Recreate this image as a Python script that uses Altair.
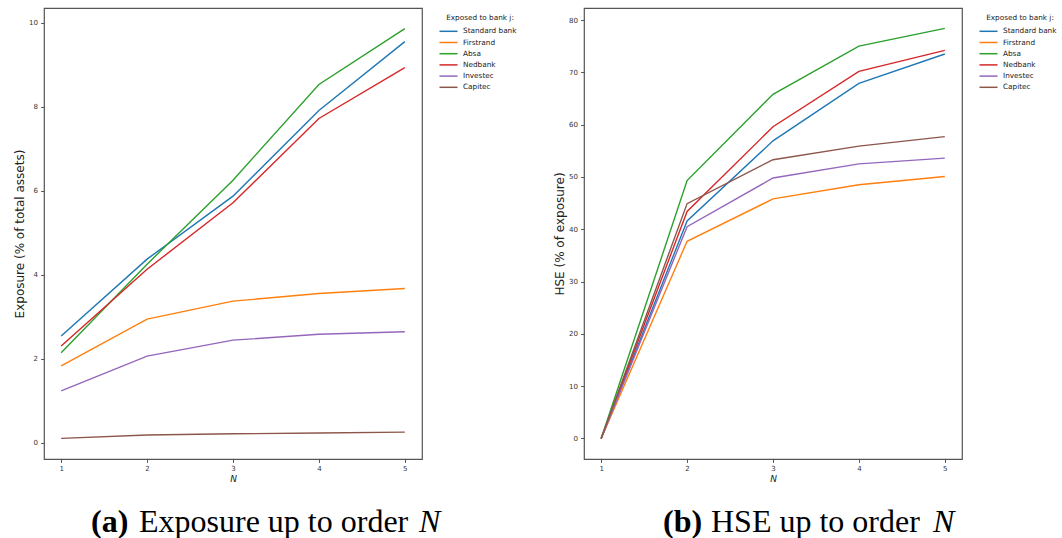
import altair as alt
import pandas as pd

banks = ["Standard bank", "Firstrand", "Absa", "Nedbank", "Investec", "Capitec"]
colors = ["#1f77b4", "#ff7f0e", "#2ca02c", "#d62728", "#9467bd", "#8c564b"]
orders = [1, 2, 3, 4, 5]

# (a) Exposure (% of total assets)
exp_standard = [2.54, 4.37, 5.87, 7.91, 9.55]
exp_firstrand = [1.83, 2.94, 3.37, 3.55, 3.67]
exp_absa = [2.14, 4.25, 6.25, 8.53, 9.86]
exp_nedbank = [2.30, 4.13, 5.71, 7.72, 8.93]
exp_investec = [1.23, 2.06, 2.44, 2.58, 2.64]
exp_capitec = [0.10, 0.18, 0.21, 0.23, 0.25]

# (b) HSE (% of exposure)
hse_standard = [0.0, 41.6, 56.9, 67.9, 73.5]
hse_firstrand = [0.0, 37.7, 45.8, 48.5, 50.1]
hse_absa = [0.0, 49.3, 65.8, 75.0, 78.4]
hse_nedbank = [0.0, 43.4, 59.6, 70.2, 74.2]
hse_investec = [0.0, 40.5, 49.8, 52.5, 53.6]
hse_capitec = [0.0, 44.9, 53.3, 55.9, 57.7]

exp_ticks = [0, 2, 4, 6, 8, 10]
hse_ticks = [0, 10, 20, 30, 40, 50, 60, 70, 80]


def long_df(series):
    rows = []
    for bank, vals in zip(banks, series):
        for n, v in zip(orders, vals):
            rows.append({"bank": bank, "N": n, "value": v})
    return pd.DataFrame(rows)


exp_df = long_df([exp_standard, exp_firstrand, exp_absa, exp_nedbank, exp_investec, exp_capitec])
hse_df = long_df([hse_standard, hse_firstrand, hse_absa, hse_nedbank, hse_investec, hse_capitec])

W, H = 378, 451


def cap_text(txt, x, weight="normal", style="normal"):
    return alt.Chart(pd.DataFrame({"t": [txt]})).mark_text(
        font="Liberation Serif", fontSize=32, fontWeight=weight, fontStyle=style,
        align="left", baseline="alphabetic", color="black"
    ).encode(text="t:N", x=alt.value(x), y=alt.value(524))


def panel(df, ytitle, ydomain, yticks, letter, words, xs):
    lines = alt.Chart(df).mark_line(strokeWidth=1.4).encode(
        x=alt.X("N:Q",
                scale=alt.Scale(domain=[0.8, 5.2], nice=False, zero=False),
                axis=alt.Axis(values=orders, format="d", title="N",
                              titleFontStyle="italic", titleFontSize=9,
                              titlePadding=3, labelPadding=2)),
        y=alt.Y("value:Q",
                scale=alt.Scale(domain=ydomain, nice=False, zero=False),
                axis=alt.Axis(values=yticks, title=ytitle)),
        color=alt.Color("bank:N", sort=banks,
                        scale=alt.Scale(domain=banks, range=colors),
                        legend=alt.Legend(title="Exposed to bank j:",
                                          orient="none", legendX=W + 21, legendY=6)),
    )
    return alt.layer(
        lines,
        cap_text(letter, xs[0], weight="bold"),
        cap_text(words, xs[1]),
        cap_text("N", xs[2], style="italic"),
    ).properties(width=W, height=H)


p1 = panel(exp_df, "Exposure (% of total assets)", [-0.39, 10.35], exp_ticks,
           "(a)", "Exposure up to order", (47, 95, 375))
p2 = panel(hse_df, "HSE (% of exposure)", [-3.92, 82.3], hse_ticks,
           "(b)", "HSE up to order", (79, 127, 349))

chart = alt.hconcat(p1, p2, spacing=34).resolve_scale(
    color="independent", x="independent", y="independent"
).resolve_legend(color="independent").properties(
    padding={"left": 12, "top": 7, "right": 0, "bottom": 0},
    background="white",
).configure_view(
    stroke="#555", strokeWidth=1.2
).configure_axis(
    grid=False, domain=False,
    labelFont="DejaVu Sans", labelFontSize=7, labelColor="#333",
    tickColor="#333", tickSize=3.5, tickWidth=0.8, labelPadding=3,
    titleFont="DejaVu Sans", titleFontSize=12, titleFontWeight="normal",
    titleColor="#222", titlePadding=2,
).configure_legend(
    padding=0,
    titleFont="DejaVu Sans", titleFontSize=7.3, titleFontWeight="normal",
    titleColor="#222", titleAnchor="middle", titlePadding=4.5,
    labelFont="DejaVu Sans", labelFontSize=7.3, labelColor="#222",
    symbolType="M-2,0H2", symbolSize=81, symbolStrokeWidth=1.5,
    labelOffset=9, rowPadding=2.2,
)

chart.save("out.html", embed_options={"renderer": "svg", "actions": False})
